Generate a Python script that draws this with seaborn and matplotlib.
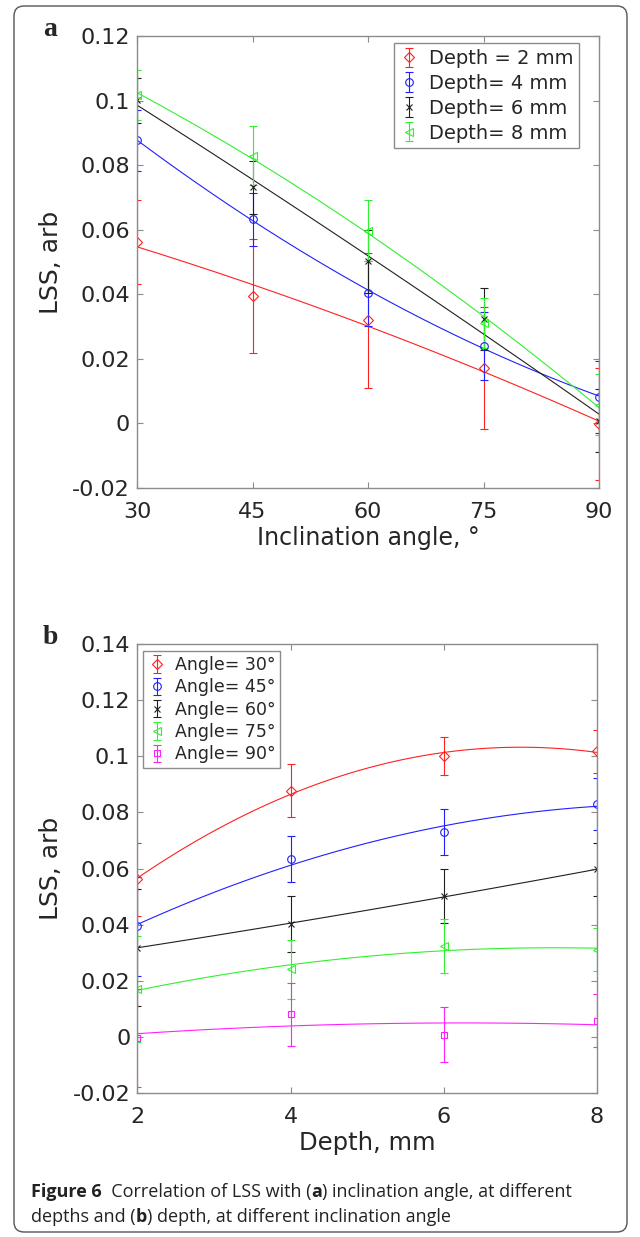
import numpy as np
import pandas as pd
import matplotlib
matplotlib.use("Agg")
from matplotlib import pyplot as plt
from matplotlib.patches import FancyBboxPatch
from matplotlib.ticker import FuncFormatter
import seaborn as sns

# LSS, one list per depth, values at each inclination angle
angles = [30, 45, 60, 75, 90]
depths = [2, 4, 6, 8]

lss_2mm = [0.0562, 0.0394, 0.0319, 0.0172, -0.0002]
lss_4mm = [0.0877, 0.0633, 0.0403, 0.0241, 0.0082]
lss_6mm = [0.1001, 0.0731, 0.0502, 0.0324, 0.0008]
lss_8mm = [0.1018, 0.0829, 0.0597, 0.0311, 0.0058]

err_2mm = [0.0131, 0.0176, 0.0210, 0.0188, 0.0174]
err_4mm = [0.0094, 0.0082, 0.0100, 0.0105, 0.0112]
err_6mm = [0.0069, 0.0083, 0.0097, 0.0096, 0.0098]
err_8mm = [0.0077, 0.0092, 0.0094, 0.0076, 0.0094]

depth_labels = ["Depth = 2 mm", "Depth= 4 mm", "Depth= 6 mm", "Depth= 8 mm"]
angle_labels = ["Angle= 30°", "Angle= 45°", "Angle= 60°", "Angle= 75°", "Angle= 90°"]

ya_ticks = [-0.02, 0, 0.02, 0.04, 0.06, 0.08, 0.1, 0.12]
yb_ticks = [-0.02, 0, 0.02, 0.04, 0.06, 0.08, 0.1, 0.12, 0.14]

colors = ["#ff2020", "#2020ff", "#202020", "#30f030", "#ff20ff"]
markers = ["D", "o", "x", "<", "s"]
msizes = [5, 5.5, 4, 5.5, 4.5]

lss = np.array([lss_2mm, lss_4mm, lss_6mm, lss_8mm])
err = np.array([err_2mm, err_4mm, err_6mm, err_8mm])

sns.set_style("ticks")
plt.rcParams["font.family"] = ["DejaVu Sans"]

spine_col = "#8c8c8c"
text_col = "#262626"


def draw_panel(ax, x, rows, errs, labels, yticks, xticks, ylim):
    for i in range(len(rows)):
        ax.errorbar(x, rows[i], yerr=errs[i], fmt=markers[i], color=colors[i],
                    mfc="none", ms=msizes[i], mew=0.8, elinewidth=0.8,
                    capsize=3, capthick=0.8, linestyle="none", label=labels[i])
        df = pd.DataFrame({"x": x, "y": rows[i]})
        sns.regplot(data=df, x="x", y="y", order=2, ci=None, scatter=False,
                    ax=ax, color=colors[i], line_kws={"lw": 0.8})
    ax.set_xlim(x[0], x[-1])
    ax.set_ylim(*ylim)
    ax.set_xticks(xticks)
    ax.set_yticks(yticks)
    ax.yaxis.set_major_formatter(FuncFormatter(lambda v, p: f"{round(v, 4) + 0:g}"))
    ax.tick_params(direction="in", top=True, right=True, length=4,
                   width=0.8, color=spine_col, labelsize=16, labelcolor=text_col)
    ax.tick_params(axis="x", pad=10)
    ax.tick_params(axis="y", pad=5)
    for s in ax.spines.values():
        s.set_color(spine_col)
        s.set_linewidth(1.0)
    ax.set_ylabel("LSS, arb", fontsize=18, color=text_col, labelpad=7)


fig = plt.figure(figsize=(6.4, 12.37), dpi=100)

# outer frame of the figure box
frame = FancyBboxPatch((0.14, 0.05), 6.13, 12.26, boxstyle="round,pad=0,rounding_size=0.1",
                       transform=fig.dpi_scale_trans, fill=False, ec="#555555", lw=1.0)
fig.patches.append(frame)

ax1 = fig.add_axes([0.2141, 0.6055, 0.7219, 0.3654])
draw_panel(ax1, angles, lss, err, depth_labels, ya_ticks, angles, (-0.02, 0.12))
ax1.set_xlabel("Inclination angle, °", fontsize=17, color=text_col, labelpad=3)
ax1.legend(loc="upper right", bbox_to_anchor=(0.957, 0.984), fontsize=14,
           frameon=True, fancybox=False, edgecolor=spine_col, framealpha=1,
           handlelength=1.0, handletextpad=0.5, borderpad=0.3, labelspacing=0.3,
           borderaxespad=0)

ax2 = fig.add_axes([0.2145, 0.1162, 0.7183, 0.3632])
draw_panel(ax2, depths, lss.T, err.T, angle_labels, yb_ticks, depths, (-0.02, 0.14))
ax2.set_xlabel("Depth, mm", fontsize=17.5, color=text_col, labelpad=3)
ax2.legend(loc="upper left", bbox_to_anchor=(0.013, 0.985), fontsize=12.5,
           frameon=True, fancybox=False, edgecolor=spine_col, framealpha=1,
           handlelength=1.0, handletextpad=0.5, borderpad=0.3, labelspacing=0.25,
           borderaxespad=0)

fig.text(43 / 640, 1 - 30 / 1237, "a", fontsize=20, fontweight="bold",
         family="Liberation Serif", va="center", ha="left")
fig.text(43 / 640, 1 - 638 / 1237, "b", fontsize=20, fontweight="bold",
         family="Liberation Serif", va="center", ha="left")

# caption with bold pieces, laid out segment by segment
renderer = fig.canvas.get_renderer()


def caption_line(y_px, parts, x_px=31):
    x = x_px
    for txt, bold in parts:
        t = fig.text(x / 640, 1 - y_px / 1237, txt, fontsize=13, family="Open Sans",
                     fontweight="bold" if bold else "normal", va="center", ha="left",
                     color="#222222")
        bb = t.get_window_extent(renderer=renderer)
        x += bb.width


caption_line(1192, [("Figure 6", True), ("  Correlation of LSS with (", False), ("a", True),
                    (") inclination angle, at different", False)])
caption_line(1217, [("depths and (", False), ("b", True),
                    (") depth, at different inclination angle", False)])

fig.savefig("out.png", dpi=100)
